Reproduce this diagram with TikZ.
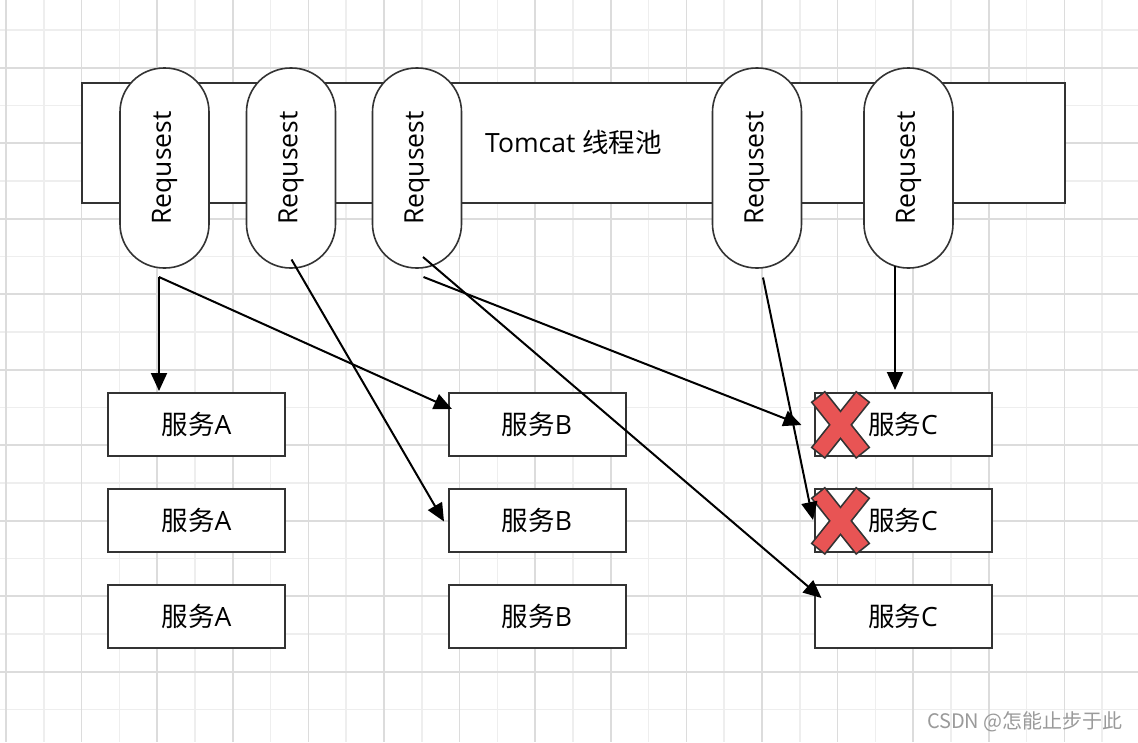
\documentclass[tikz,border=0pt]{standalone}
\usepackage{fontspec}
\setmainfont{Open Sans}
\newfontfamily\cjk{Noto Sans CJK SC}
\usetikzlibrary{arrows.meta,calc}
\definecolor{gridA}{HTML}{EEEEEE}
\definecolor{gridB}{HTML}{DCDCDC}
\definecolor{edge}{HTML}{333333}
\definecolor{xred}{HTML}{E85454}
\definecolor{wmgray}{HTML}{9A9A9A}
\newcommand\redcrossmark[1]{%
  \begin{scope}[shift={#1}]
    \draw[edge, line width=3.4pt, line join=miter] (11.7,0) -- (55,54.3) -- (43.3,63.7) -- (0,9.4) -- cycle;
    \draw[edge, line width=3.4pt, line join=miter] (43.3,0) -- (55,9.4) -- (11.7,63.7) -- (0,54.3) -- cycle;
    \fill[xred] (11.7,0) -- (55,54.3) -- (43.3,63.7) -- (0,9.4) -- cycle;
    \fill[xred] (43.3,0) -- (55,9.4) -- (11.7,63.7) -- (0,54.3) -- cycle;
  \end{scope}}
\begin{document}
\begin{tikzpicture}[x=1pt,y=-1pt,
  req/.style={draw=edge, line width=1.6pt, fill=white, rounded corners=44pt,
    minimum width=200pt, minimum height=89pt, inner sep=0pt, rotate=90,
    font=\fontsize{26.5}{30}\selectfont},
  svc/.style={draw=edge, line width=2pt, fill=white, minimum width=177pt,
    minimum height=63pt, inner sep=0pt, font=\fontsize{26.5}{30}\selectfont},
  conn/.style={line width=2pt, -{Triangle[length=18pt,width=16pt]}},
  gl/.style={line width=1.6pt}
]
\useasboundingbox (0,0) rectangle (1138,742);
\fill[white] (0,0) rectangle (1138,742);
% grid
\foreach \k in {1,3,...,29} \draw[gl, gridA] ({6+37.8*\k},0) -- ({6+37.8*\k},742);
\foreach \k in {0,2,...,18} \draw[gl, gridA] (0,{30+37.75*\k}) -- (1138,{30+37.75*\k});
\foreach \k in {0,2,...,30} \draw[gl, gridB] ({6+37.8*\k},0) -- ({6+37.8*\k},742);
\foreach \k in {1,3,...,19} \draw[gl, gridB] (0,{30+37.75*\k}) -- (1138,{30+37.75*\k});

% pool
\node[draw=edge, line width=2pt, fill=white, minimum width=983pt, minimum height=120pt,
  inner sep=0pt, font=\fontsize{26.5}{30}\selectfont] (pool) at (573.5,142.5) {Tomcat {\cjk 线程池}};

% requests
\node[req] (r1) at (164.5,168) {Requsest};
\node[req] (r2) at (291,168) {Requsest};
\node[req] (r3) at (417,168) {Requsest};
\node[req] (r4) at (757,168) {Requsest};
\node[req] (r5) at (908.5,168) {Requsest};

% services
\node[svc] (a1) at (196.5,424.5) {{\cjk 服务}A};
\node[svc] (a2) at (196.5,520.5) {{\cjk 服务}A};
\node[svc] (a3) at (196.5,616.5) {{\cjk 服务}A};
\node[svc] (b1) at (537,424.5) {{\cjk 服务}B};
\node[svc] (b2) at (537,520.5) {{\cjk 服务}B};
\node[svc] (b3) at (537,616.5) {{\cjk 服务}B};
\node[svc] (c1) at (903,424.5) {{\cjk 服务}C};
\node[svc] (c2) at (903,520.5) {{\cjk 服务}C};
\node[svc] (c3) at (903,616.5) {{\cjk 服务}C};

\redcrossmark{(813,393)}
\redcrossmark{(813,489)}

% connector endpoints
\coordinate (s1) at (159,277);
\coordinate (t1) at (159,391);
\coordinate (t2) at (452,409);
\coordinate (s3) at (291.5,259.5);
\coordinate (t3) at (444,521.5);
\coordinate (s4) at (423,257);
\coordinate (t4) at (821.5,598);
\coordinate (s5) at (423.5,277);
\coordinate (t5) at (801.5,425);
\coordinate (s6) at (763,277.5);
\coordinate (t6) at (813,520);
\coordinate (s7) at (895,266);
\coordinate (t7) at (895,390);

\draw[conn] (s1) -- (t1);
\draw[conn] (s1) -- (t2);
\draw[conn] (s3) -- (t3);
\draw[conn] (s4) -- (t4);
\draw[conn] (s5) -- (t5);
\draw[conn] (s6) -- (t6);
\draw[conn] (s7) -- (t7);

\node[text=wmgray, font=\cjk\fontsize{20}{23}\selectfont, anchor=east, inner sep=0pt] (wm) at (1123,722) {CSDN @怎能止步于此};
\end{tikzpicture}
\end{document}
